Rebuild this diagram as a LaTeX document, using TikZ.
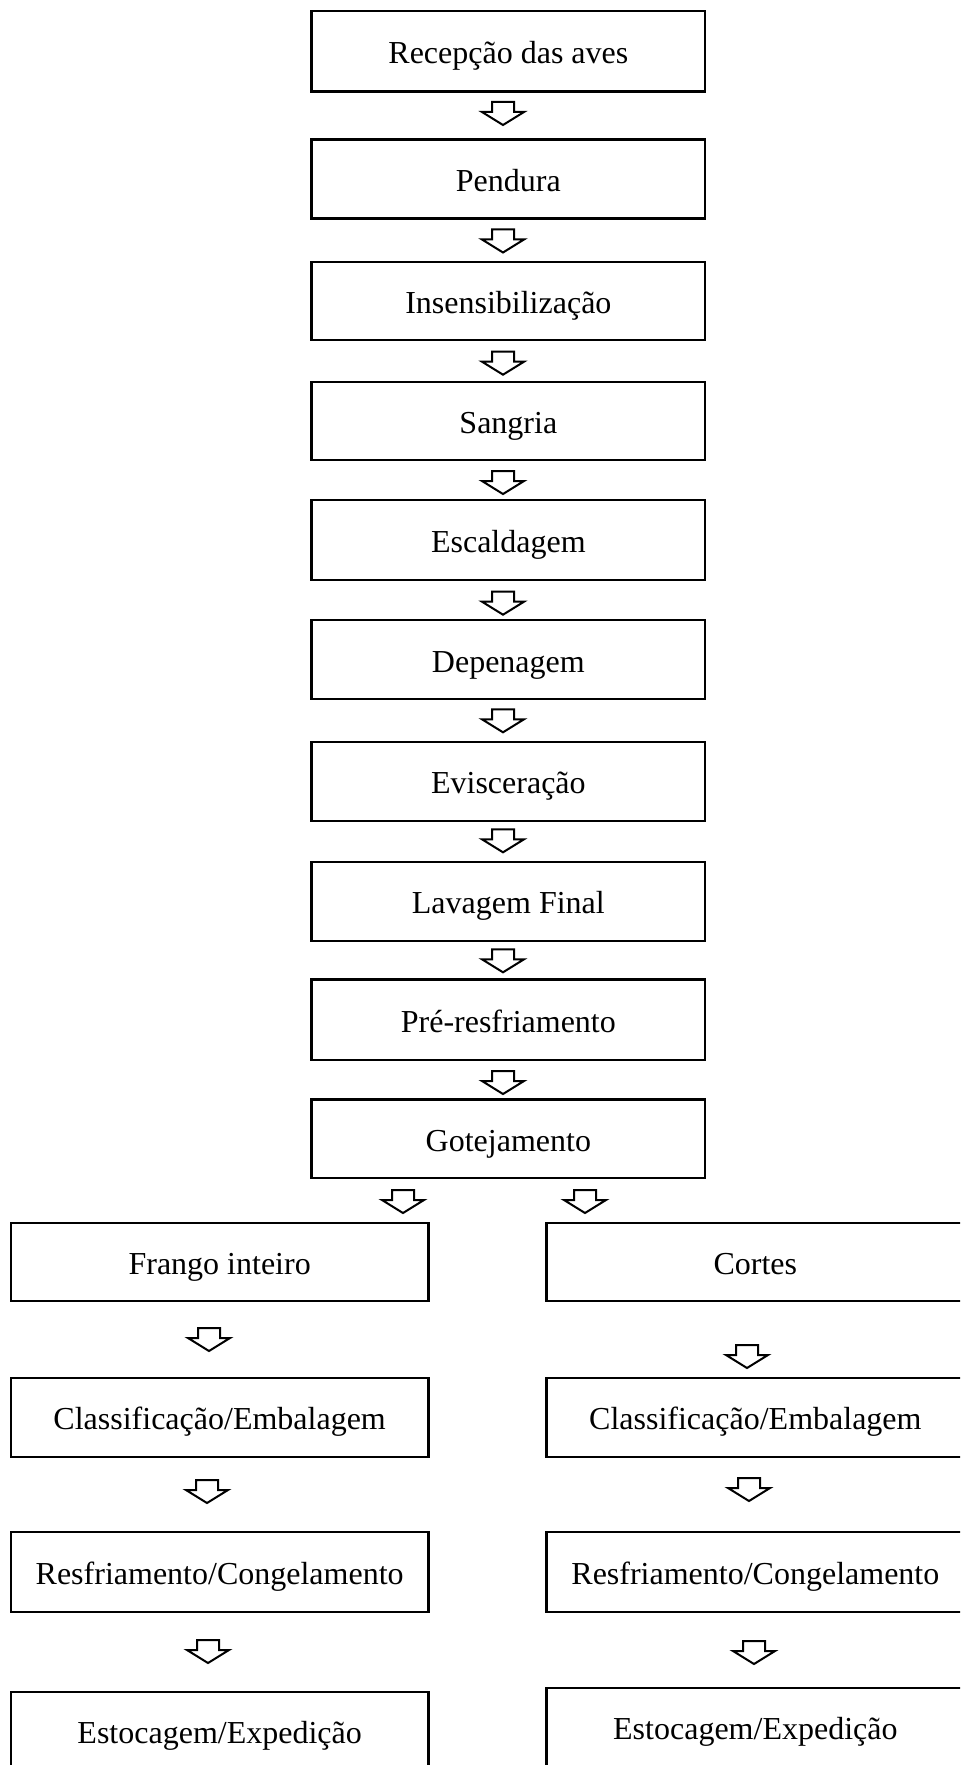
\documentclass[tikz,border=0pt]{standalone}
\usepackage{fontspec}
\setmainfont{Liberation Serif}
\tikzset{
  stepbox/.style={draw=black, line width=1.8pt, rectangle, inner sep=0pt,
    font=\fontsize{24pt}{28pt}\selectfont, text height=18.75pt, text depth=0pt},
  mainbox/.style={stepbox, minimum width=295pt},
  sidebox/.style={stepbox, minimum width=313pt},
  arrowline/.style={draw=black, fill=white, line width=1.5pt, line join=miter},
  hollowarrow/.pic={\path[arrowline] (-11,0) -- (11,0) -- (11,10) -- (21,10) -- (0,23) -- (-21,10) -- (-11,10) -- cycle;}
}
\begin{document}
\begin{tikzpicture}[x=0.75pt, y=-0.75pt]
\useasboundingbox (0,0) rectangle (960,1765);
\fill[white] (0,0) rectangle (960,1765);
\clip (0,0) rectangle (960,1765);
% main column
\node[mainbox, minimum height=60.4pt]  (n1)  at (508.35,51.25)  {Recepção das aves};
\node[mainbox, minimum height=59.25pt] (n2)  at (508.35,179)    {Pendura};
\node[mainbox, minimum height=58.5pt]  (n3)  at (508.35,301)    {Insensibilização};
\node[mainbox, minimum height=58.7pt]  (n4)  at (508.35,420.85) {Sangria};
\node[mainbox, minimum height=60pt]    (n5)  at (508.35,540)    {Escaldagem};
\node[mainbox, minimum height=59.25pt] (n6)  at (508.35,659.5)  {Depenagem};
\node[mainbox, minimum height=59.25pt] (n7)  at (508.35,781.2)  {Evisceração};
\node[mainbox, minimum height=59.25pt] (n8)  at (508.35,901.2)  {Lavagem Final};
\node[mainbox, minimum height=60.4pt]  (n9)  at (508.35,1019.8) {Pré-resfriamento};
\node[mainbox, minimum height=58.9pt]  (n10) at (508.35,1138.75) {Gotejamento};
% left branch
\node[sidebox, minimum height=58.5pt]  (l1) at (219.65,1261.7) {Frango inteiro};
\node[sidebox, minimum height=59pt]    (l2) at (219.65,1417.35) {Classificação/Embalagem};
\node[sidebox, minimum height=60pt]    (l3) at (219.65,1572) {Resfriamento/Congelamento};
\node[sidebox, minimum height=59.25pt] (l4) at (219.65,1731.2) {Estocagem/Expedição};
% right branch
\node[sidebox, minimum height=58.5pt]  (r1) at (755.35,1261.7) {Cortes};
\node[sidebox, minimum height=59pt]    (r2) at (755.35,1417.35) {Classificação/Embalagem};
\node[sidebox, minimum height=60pt]    (r3) at (755.35,1572) {Resfriamento/Congelamento};
\node[sidebox, minimum height=59.25pt] (r4) at (755.35,1727.2) {Estocagem/Expedição};
% block arrows between steps
\pic (a1) at (503,102)    {hollowarrow};
\pic (a2) at (503,229.5)  {hollowarrow};
\pic (a3) at (503,351.7)  {hollowarrow};
\pic (a4) at (503,471)    {hollowarrow};
\pic (a5) at (503,591.7)  {hollowarrow};
\pic (a6) at (503,709.3)  {hollowarrow};
\pic (a7) at (503,829.3)  {hollowarrow};
\pic (a8) at (503,949.3)  {hollowarrow};
\pic (a9) at (503,1071)   {hollowarrow};
\pic (al0) at (403,1190)  {hollowarrow};
\pic (ar0) at (585,1190)  {hollowarrow};
\pic (al1) at (209,1328)  {hollowarrow};
\pic (al2) at (207,1480)  {hollowarrow};
\pic (al3) at (208,1640)  {hollowarrow};
\pic (ar1) at (747,1345)  {hollowarrow};
\pic (ar2) at (749,1478)  {hollowarrow};
\pic (ar3) at (754,1641)  {hollowarrow};
\end{tikzpicture}
\end{document}
